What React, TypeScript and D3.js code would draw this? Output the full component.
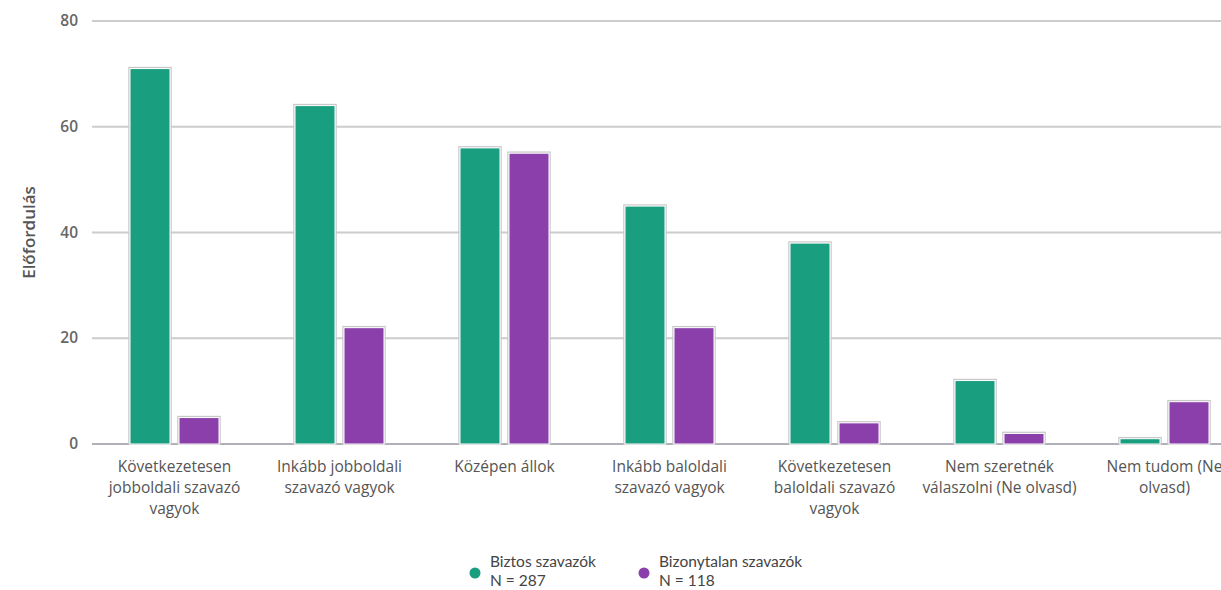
import React from "react";
import * as d3 from "d3";

const categories = [
  ["Következetesen", "jobboldali szavazó", "vagyok"],
  ["Inkább jobboldali", "szavazó vagyok"],
  ["Középen állok"],
  ["Inkább baloldali", "szavazó vagyok"],
  ["Következetesen", "baloldali szavazó", "vagyok"],
  ["Nem szeretnék", "válaszolni (Ne olvasd)"],
  ["Nem tudom (Ne", "olvasd)"],
];
const biztos = [71, 64, 56, 45, 38, 12, 1];
const bizonytalan = [5, 22, 55, 22, 4, 2, 8];
const yTicks = [0, 20, 40, 60, 80];
const seriesNames = ["Biztos szavazók", "Bizonytalan szavazók"];
const seriesN = ["N = 287", "N = 118"];
const colors = ["#1a9e80", "#8b3fab"];

export default function App() {
  const W = 1221, H = 590;
  const x0 = 92, step = 165;
  const idx = categories.map((_, i) => String(i));
  const x = d3.scaleBand<string>().domain(idx).range([x0, x0 + step * categories.length]).paddingInner(0).paddingOuter(0);
  const y = d3.scaleLinear().domain([0, 80]).range([444, 21]);
  const barW = 40, gap = 9;
  const series = [biztos, bizonytalan];
  const font = "'Open Sans', 'DejaVu Sans', sans-serif";
  return (
    <svg width={W} height={H} style={{ position: "absolute", left: 0, top: 0, background: "#fff" }}>
      {yTicks.map((t) => (
        <g key={t}>
          <line x1={x0} x2={W} y1={y(t)} y2={y(t)} stroke={t === 0 ? "#b0b0b8" : "#cccccc"} strokeWidth={2} />
          <text x={78} y={y(t) + 5} textAnchor="end" fontFamily={font} fontSize={15.5} fontWeight={600} fill="#666">{t}</text>
        </g>
      ))}
      <text transform={`translate(35,${y(40)}) rotate(-90)`} textAnchor="middle" fontFamily={font} fontSize={17} fontWeight={600} fill="#555">Előfordulás</text>
      {categories.map((c, i) => {
        const cx = (x(String(i)) as number) + x.bandwidth() / 2;
        return (
          <g key={i}>
            {series.map((s, k) => {
              const bx = cx - gap / 2 - barW + k * (barW + gap);
              const top = y(s[i]);
              const h = y(0) - top;
              return (
                <g key={k}>
                  <rect x={bx - 1} y={top - 1} width={barW + 2} height={h + 1} fill="none" stroke="#c8c8c8" strokeWidth={1.5} />
                  <rect x={bx} y={top} width={barW} height={h} fill={colors[k]} stroke="#ffffff" strokeWidth={1} />
                </g>
              );
            })}
            {c.map((line, j) => (
              <text key={j} x={cx} y={472 + j * 21} textAnchor="middle" fontFamily={font} fontSize={15.5} fill="#555">{line}</text>
            ))}
          </g>
        );
      })}
      {seriesNames.map((n, k) => {
        const lx = [475, 644][k];
        return (
          <g key={k}>
            <circle cx={lx} cy={573} r={5.5} fill={colors[k]} />
            <text x={lx + 15} y={567} fontFamily="Lato, 'Open Sans', sans-serif" fontSize={15.5} fill="#444">{n}</text>
            <text x={lx + 15} y={586} fontFamily="Lato, 'Open Sans', sans-serif" fontSize={15.5} fill="#444">{seriesN[k]}</text>
          </g>
        );
      })}
    </svg>
  );
}
